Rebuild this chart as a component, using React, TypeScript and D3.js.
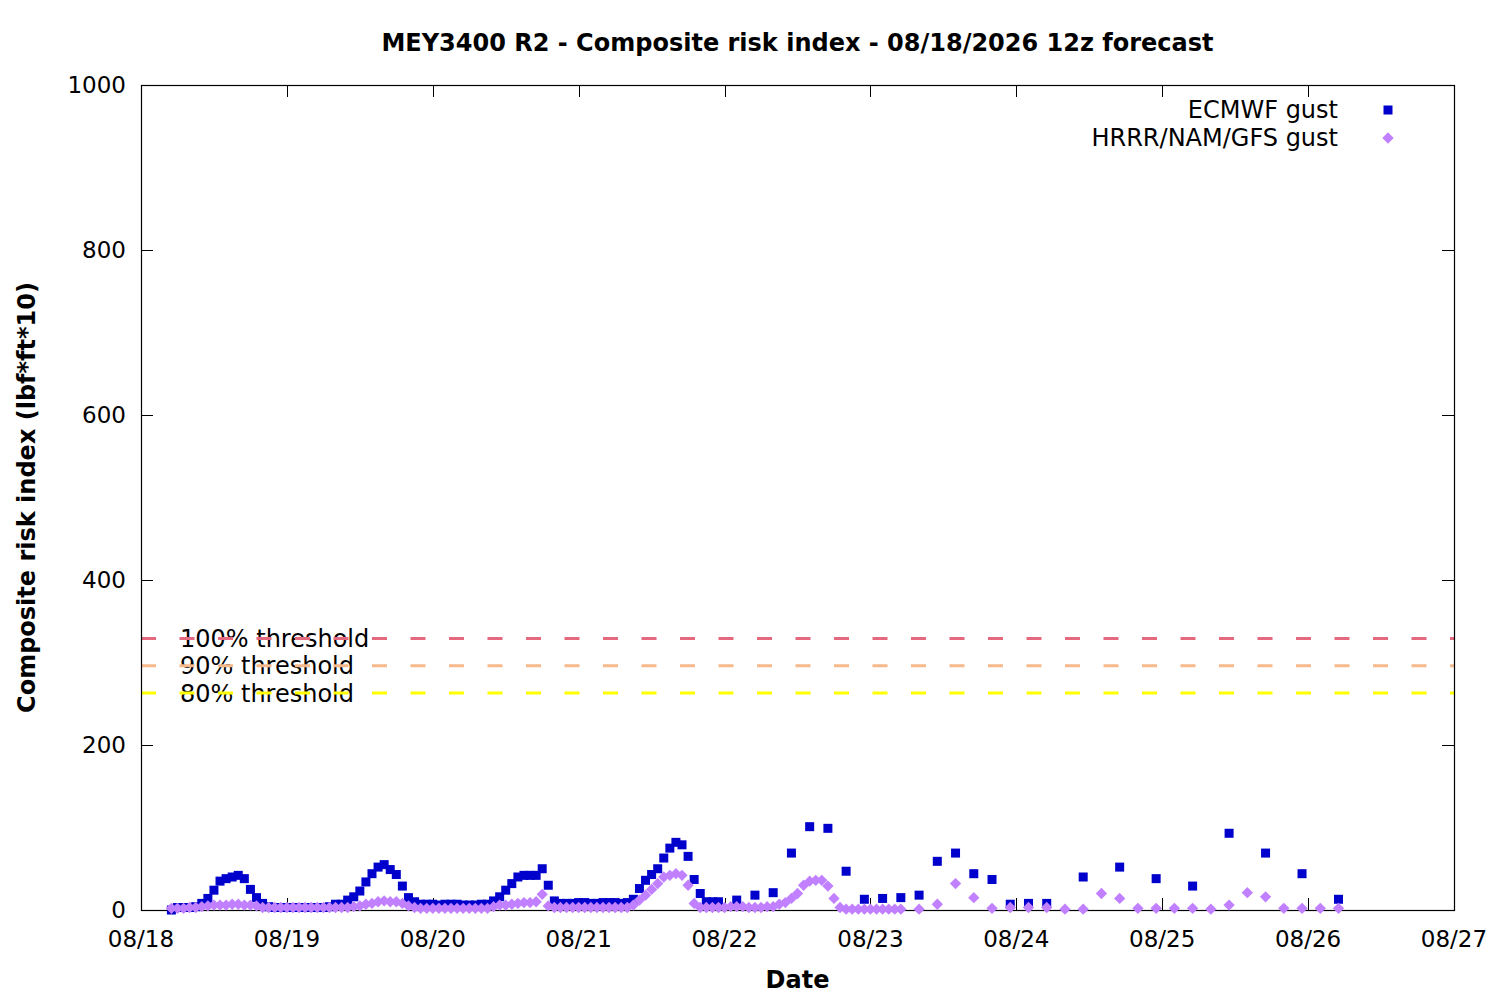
// @ts-nocheck
import React, { useEffect, useRef } from 'react';
import * as d3 from 'd3';

// ECMWF gust, hourly from 08/18 05:00
const ecmwfHourly = [
  0,
  3, 3, 3, 4, 8,
  14, 24, 35, 38, 40, 42, 38, 25, 15, 8,
  4, 3, 3, 3, 3, 3, 3, 3, 3, 3, 4,
  7, 7, 12, 16, 23, 34, 44, 52, 55, 49, 43, 29, 15, 10,
  7, 7, 7, 6, 7, 7, 7, 6, 6, 6, 7, 7,
  11, 16, 24, 32, 40, 42, 42, 42, 50, 30, 11,
  8, 8, 8, 9, 9, 8, 8, 9, 9, 9, 8, 9,
  13, 26, 36, 43, 50, 63, 75, 82, 79, 65, 37, 20, 10, 10, 10
];
// ECMWF gust, 3-hourly from 08/22 02:00
const ecmwf3h = [12, 18, 21, 69, 101, 99, 47, 13, 14, 15, 18, 59, 69, 44, 37, 7, 8, 8];
// ECMWF gust, 6-hourly from 08/24 11:00
const ecmwf6h = [40, 52, 38, 29, 93, 69, 44, 13];

// HRRR/NAM/GFS gust, hourly from 08/18 05:00
const blendHourly = [
  2, 2, 2, 3, 3, 4,
  5, 6, 6, 6, 7, 7, 6, 6, 5,
  3, 3, 3, 3, 3, 3, 3, 3, 3, 3, 3, 3, 3, 3, 3, 4,
  5, 7, 8, 10, 11, 10, 10, 8, 5,
  3, 2, 2, 2, 2, 2, 2, 2, 2, 2, 2, 2, 2,
  4, 6, 6, 7, 8, 9, 9, 10, 19, 5,
  3, 3, 3, 3, 3, 3, 3, 3, 3, 3, 3, 3, 3,
  6, 12, 18, 25, 32, 40, 42, 44, 42, 30, 8,
  3, 3, 3, 3, 3, 4, 4, 4, 3, 3, 3, 4, 4,
  7, 9, 14, 20, 30, 35, 36, 36, 29, 14, 3,
  1, 1, 1, 1, 1, 1, 1, 1, 1, 1
];
// HRRR/NAM/GFS gust, 3-hourly from 08/23 08:00
const blend3h = [1, 7, 32, 15, 2, 3, 3, 3, 1, 1, 20, 14, 2, 2, 2, 2, 1, 6, 21, 16, 2, 2, 2, 2];

const thresholdLabels = ["100% threshold", "90% threshold", "80% threshold"];
const thresholdValues = [329, 296, 263];
const yTicks = [0, 200, 400, 600, 800, 1000];

const day0 = new Date(2026, 7, 18);
const dayEnd = new Date(2026, 7, 27);

const toSeries = (values, startHour, step) =>
  values.map((v, i) => ({ t: d3.timeHour.offset(day0, startHour + i * step), v }));

const App = () => {
  const svgRef = useRef(null);

  useEffect(() => {
    const width = 1500;
    const height = 1000;
    const marginTop = 85;
    const marginRight = 46;
    const marginBottom = 90;
    const marginLeft = 141;
    const font = "'DejaVu Sans', sans-serif";
    const tickLen = 12;

    const svg = d3.select(svgRef.current)
      .attr("width", width)
      .attr("height", height)
      .attr("viewBox", [0, 0, width, height])
      .style("font-family", font);

    svg.selectAll("*").remove();

    svg.append("rect").attr("width", width).attr("height", height).attr("fill", "#fff");

    const x = d3.scaleTime().domain([day0, dayEnd]).range([marginLeft, width - marginRight]);
    const y = d3.scaleLinear().domain([0, 1000]).range([height - marginBottom, marginTop]);

    const x0 = x.range()[0], x1 = x.range()[1];
    const y0 = y.range()[0], y1 = y.range()[1];

    const days = d3.timeDay.range(day0, d3.timeDay.offset(dayEnd, 1));
    const fmt = d3.timeFormat("%m/%d");

    // ticks (inward, mirrored)
    const gTicks = svg.append("g").attr("stroke", "#000").attr("stroke-width", 1);
    days.forEach(d => {
      const px = Math.round(x(d)) + 0.5;
      gTicks.append("line").attr("x1", px).attr("x2", px).attr("y1", y0).attr("y2", y0 - tickLen);
      gTicks.append("line").attr("x1", px).attr("x2", px).attr("y1", y1).attr("y2", y1 + tickLen);
    });
    yTicks.forEach(v => {
      const py = Math.round(y(v)) + 0.5;
      gTicks.append("line").attr("x1", x0).attr("x2", x0 + tickLen).attr("y1", py).attr("y2", py);
      gTicks.append("line").attr("x1", x1).attr("x2", x1 - tickLen).attr("y1", py).attr("y2", py);
    });

    // tick labels
    svg.append("g")
      .selectAll("text")
      .data(days)
      .join("text")
      .attr("x", d => x(d))
      .attr("y", y0 + 37)
      .attr("text-anchor", "middle")
      .attr("font-size", 23)
      .text(d => fmt(d));

    svg.append("g")
      .selectAll("text")
      .data(yTicks)
      .join("text")
      .attr("x", x0 - 15)
      .attr("y", d => y(d))
      .attr("dy", "0.36em")
      .attr("text-anchor", "end")
      .attr("font-size", 23)
      .text(d => d);

    // threshold labels under the dashed lines
    const thresholdColors = ["#e4687e", "#f6b98c", "#ffff00"];
    svg.append("g")
      .selectAll("text")
      .data(thresholdLabels)
      .join("text")
      .attr("x", x0 + 39)
      .attr("y", (d, i) => y(thresholdValues[i]))
      .attr("dy", "0.36em")
      .attr("font-size", 24)
      .text(d => d);

    svg.append("g")
      .selectAll("line")
      .data(thresholdValues)
      .join("line")
      .attr("x1", x0)
      .attr("x2", x1)
      .attr("y1", d => y(d))
      .attr("y2", d => y(d))
      .attr("stroke", (d, i) => thresholdColors[i])
      .attr("stroke-width", 3)
      .attr("stroke-dasharray", "15,23.5");

    // frame
    svg.append("rect")
      .attr("x", x0 + 0.5)
      .attr("y", y1 + 0.5)
      .attr("width", x1 - x0)
      .attr("height", y0 - y1)
      .attr("fill", "none")
      .attr("stroke", "#000")
      .attr("stroke-width", 1.2);

    const blue = "#0000cc";
    const purple = "#c080ff";
    const sq = 9;
    const diamond = d3.symbol().type(d3.symbolSquare).size(64);

    const ecmwf = [
      ...toSeries(ecmwfHourly, 5, 1),
      ...toSeries(ecmwf3h, 98, 3),
      ...toSeries(ecmwf6h, 155, 6)
    ];
    const blend = [
      ...toSeries(blendHourly, 5, 1),
      ...toSeries(blend3h, 128, 3)
    ];

    svg.append("g")
      .attr("fill", blue)
      .selectAll("rect")
      .data(ecmwf)
      .join("rect")
      .attr("x", d => x(d.t) - sq / 2)
      .attr("y", d => y(d.v) - sq / 2)
      .attr("width", sq)
      .attr("height", sq);

    svg.append("g")
      .attr("fill", purple)
      .selectAll("path")
      .data(blend)
      .join("path")
      .attr("d", diamond)
      .attr("transform", d => `translate(${x(d.t)},${y(d.v)}) rotate(45)`);

    // legend
    const legend = svg.append("g").attr("font-size", 24).attr("text-anchor", "end");
    legend.append("text").attr("x", 1338).attr("y", 118).text("ECMWF gust");
    legend.append("text").attr("x", 1338).attr("y", 146).text("HRRR/NAM/GFS gust");
    legend.append("rect")
      .attr("x", 1388 - sq / 2).attr("y", 110 - sq / 2)
      .attr("width", sq).attr("height", sq).attr("fill", blue);
    legend.append("path")
      .attr("d", diamond)
      .attr("transform", "translate(1388,138) rotate(45)")
      .attr("fill", purple);

    // titles
    svg.append("text")
      .attr("x", (x0 + x1) / 2)
      .attr("y", 51)
      .attr("text-anchor", "middle")
      .attr("font-size", 24)
      .attr("font-weight", "bold")
      .text("MEY3400 R2 - Composite risk index - 08/18/2026 12z forecast");

    svg.append("text")
      .attr("x", (x0 + x1) / 2)
      .attr("y", 988)
      .attr("text-anchor", "middle")
      .attr("font-size", 24)
      .attr("font-weight", "bold")
      .text("Date");

    svg.append("text")
      .attr("transform", `translate(35,${(y0 + y1) / 2}) rotate(-90)`)
      .attr("text-anchor", "middle")
      .attr("font-size", 24)
      .attr("font-weight", "bold")
      .text("Composite risk index (lbf*ft*10)");
  }, []);

  return (
    <svg ref={svgRef} style={{ position: "absolute", left: 0, top: 0, display: "block" }}></svg>
  );
};

export default App;
